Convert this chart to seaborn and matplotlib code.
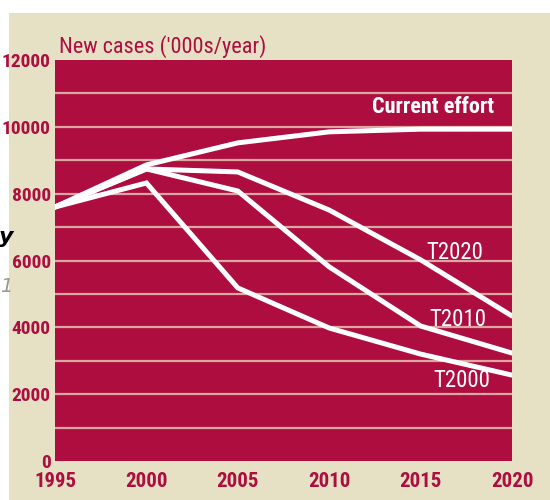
import numpy as np
import pandas as pd
import matplotlib
matplotlib.use("Agg")
import matplotlib.pyplot as plt
import seaborn as sns
from matplotlib.patches import Rectangle
from matplotlib import font_manager as fm

# data
years = [1995, 2000, 2005, 2010, 2015, 2020]
current_effort = [7600, 8860, 9520, 9850, 9930, 9930]
t2020 = [7600, 8740, 8650, 7510, 6020, 4340]
t2010 = [7600, 8740, 8080, 5810, 4040, 3230]
t2000 = [7600, 8320, 5180, 3980, 3200, 2570]
scenarios = ["Current effort", "T2020", "T2010", "T2000"]
label_x = [2019.0, 2016.85, 2017.05, 2017.25]
label_y = [10600, 6230, 4220, 2400]

crimson = "#AD0D3F"
beige = "#E6E1C5"
grid_col = "#DCA7A0"

df = pd.DataFrame({
    "year": years * 4,
    "cases": current_effort + t2020 + t2010 + t2000,
    "scenario": np.repeat(scenarios, len(years)),
})

sns.set_style("white")

# pick the narrowest sans that is installed
installed = {f.name for f in fm.fontManager.ttflist}
cands = ["Roboto Condensed", "Liberation Sans Narrow", "Open Sans Condensed", "Roboto"]
narrow_name = next((c for c in cands if c in installed), "DejaVu Sans")
narrow = [narrow_name, "DejaVu Sans"]
is_cond = narrow_name in ("Roboto Condensed", "Liberation Sans Narrow", "Open Sans Condensed")
k = 1.0 if is_cond else 0.82

fig = plt.figure(figsize=(5.5, 5.0), dpi=100)
fig.patches.append(Rectangle((9 / 550, 0), 1, 1 - 13 / 500, transform=fig.transFigure,
                             facecolor=beige, edgecolor="none", zorder=-10))

ax = fig.add_axes([55 / 550, 39 / 500, 457 / 550, 401 / 500])
ax.set_facecolor(crimson)

for g in range(1000, 12000, 1000):
    ax.axhline(g, color=grid_col, lw=1.6, zorder=1)

sns.lineplot(data=df, x="year", y="cases", hue="scenario", palette=["white"] * 4,
             legend=False, linewidth=3.6, ax=ax, zorder=3)
for ln in ax.lines[-4:]:
    ln.set_solid_joinstyle("miter")

ax.set_xlim(1995, 2020)
ax.set_ylim(0, 12000)
ax.set_xticks(years)
ax.set_yticks(range(0, 12001, 2000))
ax.set_xlabel("")
ax.set_ylabel("")
for s in ax.spines.values():
    s.set_visible(False)
ax.tick_params(length=0)
ax.tick_params(axis="y", pad=3)
ax.tick_params(axis="x", pad=8)
for t in ax.get_yticklabels():
    t.set_family(narrow)
    t.set_fontweight("bold")
    t.set_fontsize(14 * k)
    t.set_color(crimson)
for t in ax.get_xticklabels():
    t.set_family(narrow)
    t.set_fontweight("bold")
    t.set_fontsize(15 * k)
    t.set_color(crimson)

ax.text(label_x[0], label_y[0], scenarios[0], color="white", fontsize=16 * k,
        fontweight="bold", family=narrow, ha="right", va="center", zorder=4)
for name, lx, ly in zip(scenarios[1:], label_x[1:], label_y[1:]):
    ax.text(lx, ly, name, color="white", fontsize=16.5 * k, family=narrow,
            ha="center", va="center", zorder=4)

fig.text(59 / 550, 1 - 47 / 500, "New cases ('000s/year)", color=crimson,
         fontsize=16 * k, family=narrow, ha="left", va="center")

# cut-off text at the left edge
fig.text(-1 / 550, 1 - 237 / 500, "y", color="black", fontsize=16,
         fontweight="bold", style="italic", ha="left", va="center")
fig.text(0, 1 - 287 / 500, "1", color="#9A9A8A", fontsize=14,
         style="italic", ha="left", va="center")

fig.savefig("out.png", dpi=100)
